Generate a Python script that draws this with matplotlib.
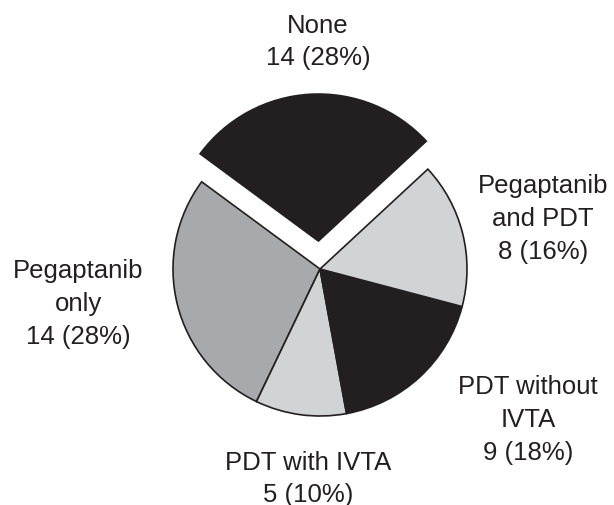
import matplotlib.pyplot as plt

# Données
categories = ["None", "Pegaptanib\nonly", "PDT with IVTA", "PDT without\nIVTA", "Pegaptanib\nand PDT"]
counts = [14, 14, 5, 9, 8]
percents = [28, 28, 10, 18, 16]

colors = ["#231f20", "#a7a9ac", "#d1d3d4", "#231f20", "#d1d3d4"]
explode = [28 / 147, 0, 0, 0, 0]

# positions des étiquettes (pixels, origine en haut à gauche)
label_px = [(318, 42), (78, 304), (308, 479), (528, 420), (543, 219)]

W, H = 614, 506
cx, cy, r = 320, 270, 147

plt.rcParams['font.family'] = ['Liberation Sans', 'DejaVu Sans']
fig = plt.figure(figsize=(W / 100, H / 100), dpi=100)
ax = fig.add_axes([0, 0, 1, 1])

ax.pie(counts, colors=colors, explode=explode, startangle=42.8,
       counterclock=True, radius=1,
       wedgeprops=dict(edgecolor="#231f20", linewidth=1.2))

ax.set_xlim(-cx / r, (W - cx) / r)
ax.set_ylim(-(H - cy) / r, cy / r)
ax.set_aspect('equal')
ax.axis('off')

for cat, n, p, (px, py) in zip(categories, counts, percents, label_px):
    fig.text(px / W, 1 - py / H, f"{cat}\n{n} ({p}%)", ha='center', va='center',
             fontsize=18.5, color="#231f20", linespacing=1.45)

fig.savefig("out.png", dpi=100)
